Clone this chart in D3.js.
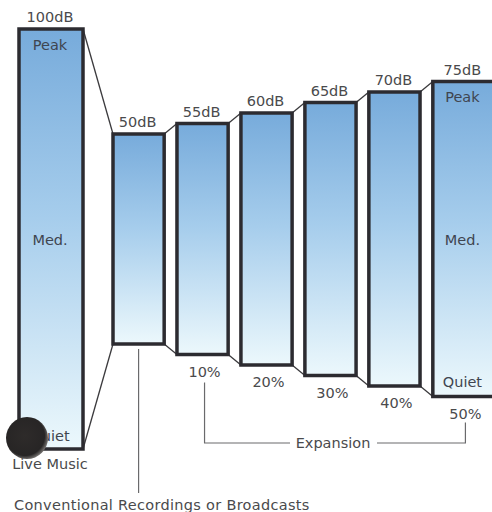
<!DOCTYPE html>
<html><head><meta charset="utf-8">
<script src="https://cdn.jsdelivr.net/npm/d3@7"></script>
<style>html,body{margin:0;padding:0;background:#fff;}svg{display:block;}</style>
</head><body>
<svg id="chart" width="492" height="512"></svg>
<script>
// ---- data ----
const liveCategory = ["Live Music"];
const liveRange = [100];
const recCategories = ["50dB", "55dB", "60dB", "65dB", "70dB", "75dB"];
const recRange = [50, 55, 60, 65, 70, 75];
const expansion = [null, 10, 20, 30, 40, 50];
const levelLabels = ["Peak", "Med.", "Quiet"];
const expansionLabel = "Expansion";
const recordingsLabel = "Conventional Recordings or Broadcasts";

const svg = d3.select("#chart");
const font = "'DejaVu Sans', Verdana, sans-serif";
const fs = 14.5;
const textColor = "#4a4a4c";
const border = "#2c2b30";

// gradient
const defs = svg.append("defs");
const grad = defs.append("linearGradient").attr("id", "bg").attr("x1", 0).attr("y1", 0).attr("x2", 0).attr("y2", 1);
grad.append("stop").attr("offset", "0%").attr("stop-color", "#77abdb");
grad.append("stop").attr("offset", "45%").attr("stop-color", "#a6cdec");
grad.append("stop").attr("offset", "100%").attr("stop-color", "#ecf8fc");
const cg = defs.append("radialGradient").attr("id", "dot").attr("cx", "45%").attr("cy", "45%").attr("r", "55%");
cg.append("stop").attr("offset", "0%").attr("stop-color", "#2e2b2a");
cg.append("stop").attr("offset", "85%").attr("stop-color", "#272525");
cg.append("stop").attr("offset", "100%").attr("stop-color", "#6b6866");

// scales: dynamic range (dB) centred around 0
const y = d3.scaleLinear().domain([-50, 50]).range([449, 29]);
const xLive = d3.scaleBand().domain(liveCategory).range([19, 83]);
const xRec = d3.scaleBand().domain(recCategories).range([113, 484]).paddingInner(0.2).paddingOuter(0);
const lastExtra = 10;

const recBars = recCategories.map((c, i) => {
  const w = xRec.bandwidth() + (i === recCategories.length - 1 ? lastExtra : 0);
  return { cat: c, db: recRange[i], x0: xRec(c), x1: xRec(c) + w, top: y(recRange[i] / 2), bot: y(-recRange[i] / 2), pct: expansion[i] };
});
const live = { cat: liveCategory[0], db: liveRange[0], x0: xLive(liveCategory[0]), x1: xLive(liveCategory[0]) + xLive.bandwidth(), top: y(liveRange[0] / 2), bot: y(-liveRange[0] / 2) };

function txt(sel) {
  return sel.attr("font-family", font).attr("font-size", fs).attr("fill", textColor);
}

// connectors
const conn = [];
conn.push([live, recBars[0]]);
for (let i = 0; i < recBars.length - 1; i++) conn.push([recBars[i], recBars[i + 1]]);
const cG = svg.append("g").attr("stroke", "#3a393c").attr("stroke-width", 1.3).attr("fill", "none");
conn.forEach(([a, b]) => {
  cG.append("line").attr("x1", a.x1).attr("y1", a.top).attr("x2", b.x0).attr("y2", b.top);
  cG.append("line").attr("x1", a.x1).attr("y1", a.bot).attr("x2", b.x0).attr("y2", b.bot);
});

// leader line under first recording bar
const cx0 = recBars[0].x0 + xRec.bandwidth() / 2;
svg.append("line").attr("x1", cx0).attr("x2", cx0).attr("y1", recBars[0].bot + 5).attr("y2", 493)
  .attr("stroke", "#6a6a6c").attr("stroke-width", 1.2);

// bars
const allBars = [live].concat(recBars);
svg.append("g").selectAll("rect").data(allBars).join("rect")
  .attr("x", d => d.x0).attr("y", d => d.top)
  .attr("width", d => d.x1 - d.x0).attr("height", d => d.bot - d.top)
  .attr("fill", "url(#bg)").attr("stroke", border).attr("stroke-width", 3.5);

// dB labels
txt(svg.append("g").selectAll("text").data(allBars).join("text"))
  .attr("x", d => (d.x0 + d.x1) / 2 - 1).attr("y", d => d.top - 7)
  .attr("text-anchor", "middle")
  .text(d => d.db + "dB");

// Peak / Med. / Quiet in live and last bar
const lastBar = recBars[recBars.length - 1];
[live, lastBar].forEach(b => {
  const cx = (b.x0 + b.x1) / 2 - 1;
  const mid = (b.top + b.bot) / 2;
  const ys = [b.top + 20.5, mid + 6, b.bot - (b === live ? 8 : 10)];
  levelLabels.forEach((t, i) => {
    txt(svg.append("text")).attr("x", cx).attr("y", ys[i]).attr("text-anchor", "middle")
      .attr("fill", "#3f4550").text(t);
  });
});

// percent labels
txt(svg.append("g").selectAll("text").data(recBars.filter(d => d.pct !== null)).join("text"))
  .attr("x", d => (d.x0 + d.x1) / 2 + 2).attr("y", d => d.bot + 22)
  .attr("text-anchor", "middle")
  .text(d => d.pct + "%");

// expansion bracket
const firstPct = recBars.find(d => d.pct !== null);
const bx0 = (firstPct.x0 + firstPct.x1) / 2 + 2;
const bx1 = (lastBar.x0 + lastBar.x1) / 2 + 2;
const by = 443;
const bG = svg.append("g").attr("stroke", "#6a6a6c").attr("stroke-width", 1.2).attr("fill", "none");
bG.append("path").attr("d", `M${bx0},${firstPct.bot + 28}V${by}H290`);
bG.append("path").attr("d", `M377,${by}H${bx1}V${lastBar.bot + 26}`);
txt(svg.append("text")).attr("x", 333).attr("y", by + 5).attr("text-anchor", "middle").text(expansionLabel);

// live music label
txt(svg.append("text")).attr("x", (live.x0 + live.x1) / 2 - 1).attr("y", 469).attr("text-anchor", "middle").text(live.cat);

// recordings label
txt(svg.append("text")).attr("x", 14).attr("y", 510).attr("letter-spacing", 0.3).text(recordingsLabel);

// punch-hole dot
svg.append("circle").attr("cx", 27).attr("cy", 438).attr("r", 21).attr("fill", "url(#dot)");
</script>
</body></html>
